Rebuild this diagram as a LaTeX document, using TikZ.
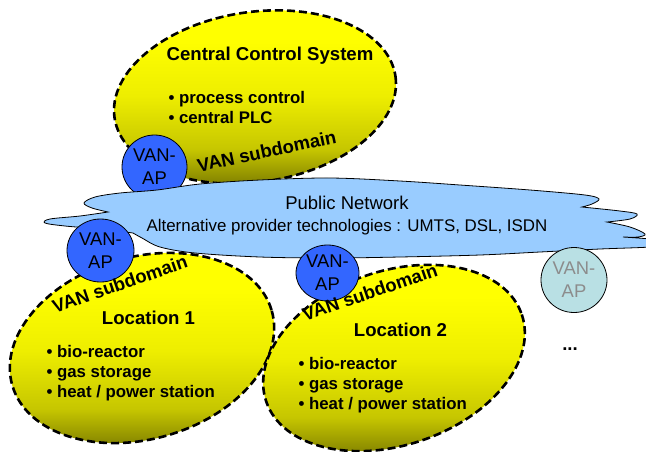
\documentclass[tikz,border=0pt]{standalone}
\usepackage{fontspec}
\setmainfont{Liberation Sans}
\usetikzlibrary{shapes.geometric}
\definecolor{apblue}{RGB}{51,102,255}
\definecolor{cloudblue}{RGB}{153,204,255}
\definecolor{fadefill}{RGB}{185,224,228}
\definecolor{fadetext}{RGB}{140,140,140}
\definecolor{ylw}{RGB}{255,255,0}
\definecolor{ylwA}{RGB}{238,238,0}
\definecolor{ylwB}{RGB}{198,198,0}
\definecolor{olv}{RGB}{112,112,0}
\pgfdeclareverticalshading{yolive}{100bp}{color(0bp)=(olv); color(25bp)=(olv); color(37bp)=(ylwB); color(52bp)=(ylwA); color(68bp)=(ylw); color(100bp)=(ylw)}
\begin{document}
\begin{tikzpicture}[x=1pt,y=-1pt,
 vandomain/.style={draw=black, line width=2.6pt, dash pattern=on 8pt off 4pt, shading=yolive},
 vanap/.style={ellipse, draw=black, line width=0.8pt, fill=apblue, inner sep=0pt, align=center, font=\fontsize{18.4}{23}\selectfont},
 fadeap/.style={vanap, fill=fadefill, text=fadetext},
 title/.style={font=\bfseries\fontsize{18.6}{22}\selectfont, anchor=base},
 bullet/.style={font=\bfseries\fontsize{16.8}{20}\selectfont, anchor=base west},
 subdom/.style={font=\bfseries\fontsize{18.5}{22}\selectfont, anchor=base},
 cloudtxt/.style={anchor=base},
 smoothseg/.style={smooth, tension=0.55}
]
\useasboundingbox (0,0) rectangle (646,451);
\clip (0,0) rectangle (646,451);

% domains
\draw[vandomain, rotate around={8.5:(255,97)}] (255,97) ellipse [x radius=142, y radius=85];
\draw[vandomain, rotate around={16:(142,348)}] (142,348) ellipse [x radius=135, y radius=91];
\draw[vandomain, rotate around={18.8:(394,358)}] (394,358) ellipse [x radius=135, y radius=87];

% top access point (behind the cloud)
\node[vanap, minimum width=65pt, minimum height=64pt] (ap0) at (154.5,167) {VAN-\\AP};

% public network cloud
\draw[fill=cloudblue, line width=0.8pt] (108,212)
 -- plot[smoothseg] coordinates {(108,212) (92,208) (84,203) (95,197) (120,193) (157,190) (200,184) (260,180) (330,178) (400,181) (460,185) (530,190) (585,195) (599,199) (592,204) (582,207)}
 -- plot[smoothseg] coordinates {(582,207) (620,211) (637,214) (630,219) (607,222)}
 -- plot[smoothseg] coordinates {(607,222) (630,227) (645,234) (638,237) (623,237)}
 -- plot[smoothseg] coordinates {(623,237) (660,240) (665,244) (650,247) (600,249) (540,252) (480,255) (400,257) (330,258) (260,257) (195,253) (160,247) (142,238) (133,233)}
 -- plot[smoothseg] coordinates {(133,233) (100,229) (65,226) (45,223) (50,219) (80,216) (108,212)}
 -- cycle;

% other access points
\node[vanap, minimum width=67pt, minimum height=63pt] (ap1) at (100.5,250.5) {VAN-\\AP};
\node[vanap, minimum width=63pt, minimum height=56pt] (ap2) at (327.5,273) {VAN-\\AP};
\node[fadeap, minimum width=66pt, minimum height=65pt] (ap3) at (574,280) {VAN-\\AP};

% texts
\node[cloudtxt, font=\fontsize{18.5}{22}\selectfont] (pn) at (347,209) {Public Network};
\node[cloudtxt, font=\fontsize{16.9}{20}\selectfont] (alt) at (347,231) {Alternative provider technologies : UMTS, DSL, ISDN};

\node[title] (cc) at (270,60) {Central Control System};
\node[bullet] (c1) at (165,103) {• process control};
\node[bullet] (c2) at (165,123) {• central PLC};
\node[subdom, rotate=12] (sd0) at (268,157.5) {VAN subdomain};

\node[title] (l1) at (148.5,324) {Location 1};
\node[bullet] (l1a) at (43,357) {• bio-reactor};
\node[bullet] (l1b) at (43,377) {• gas storage};
\node[bullet] (l1c) at (43,397) {• heat / power station};
\node[subdom, rotate=19] (sd1) at (122,290) {VAN subdomain};

\node[title] (l2) at (400.5,336) {Location 2};
\node[bullet] (l2a) at (295,369) {• bio-reactor};
\node[bullet] (l2b) at (295,389) {• gas storage};
\node[bullet] (l2c) at (295,409) {• heat / power station};
\node[subdom, rotate=19] (sd2) at (372,298.5) {VAN subdomain};

\node[title] (dots) at (570,350) {...};
\end{tikzpicture}
\end{document}
